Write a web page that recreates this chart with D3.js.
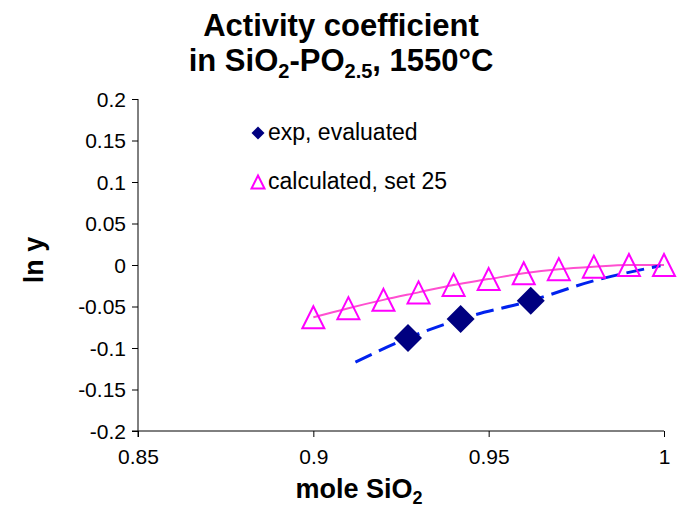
<!DOCTYPE html>
<html>
<head>
<meta charset="utf-8">
<script src="https://cdn.jsdelivr.net/npm/d3@7"></script>
<style>
  body { margin: 0; background: #fff; }
  svg { font-family: "Liberation Sans", Arial, sans-serif; }
  .tick text { font-size: 21px; fill: #000; }
</style>
</head>
<body>
<div id="chart"></div>
<script>
/* data */
var calcX = [0.90, 0.91, 0.92, 0.93, 0.94, 0.95, 0.96, 0.97, 0.98, 0.99, 1.00];
var calcY = [-0.063, -0.052, -0.042, -0.033, -0.024, -0.017, -0.010, -0.005, -0.002, 0.000, 0.000];

var expX = [0.927, 0.942, 0.962];
var expY = [-0.088, -0.065, -0.043];

// dashed trend line of the exp points
var trendX = [0.912, 0.927, 0.942, 0.962, 0.980, 0.999];
var trendY = [-0.117, -0.088, -0.065, -0.043, -0.019, -0.001];

var xTicks = [0.85, 0.9, 0.95, 1];
var yTicks = [0.2, 0.15, 0.1, 0.05, 0, -0.05, -0.1, -0.15, -0.2];

var W = 677, H = 513;
var margin = { left: 138, right: 13, top: 99, bottom: 82 };

var svg = d3.select("#chart").append("svg")
    .attr("width", W)
    .attr("height", H);

var x = d3.scaleLinear().domain([0.85, 1]).range([margin.left, W - margin.right]);
var y = d3.scaleLinear().domain([-0.2, 0.2]).range([H - margin.bottom, margin.top]);

var fmt = function (d) { return String(+d.toFixed(2)); };

/* axes */
svg.append("g")
    .attr("transform", "translate(0," + y(-0.2) + ")")
    .call(d3.axisBottom(x).tickValues(xTicks).tickSize(6).tickPadding(9).tickFormat(fmt))
    .call(function (g) { g.select(".domain").attr("d", "M" + (x(0.85) - 6) + ",0H" + x(1)); })
    .selectAll("text").attr("dy", "0.85em");

svg.append("g")
    .attr("transform", "translate(" + x(0.85) + ",0)")
    .call(d3.axisLeft(y).tickValues(yTicks).tickSize(6).tickPadding(6).tickFormat(fmt))
    .call(function (g) { g.select(".domain").attr("d", "M0," + y(0.2) + "V" + (y(-0.2) + 6)); })
    .selectAll("text").attr("dy", "0.35em");

svg.selectAll(".tick line").attr("stroke", "#000");
svg.selectAll(".domain").attr("stroke", "#000");

/* lines */
var calcData = calcX.map(function (d, i) { return [d, calcY[i]]; });
var expData = expX.map(function (d, i) { return [d, expY[i]]; });
var trendData = trendX.map(function (d, i) { return [d, trendY[i]]; });

var line = d3.line()
    .x(function (d) { return x(d[0]); })
    .y(function (d) { return y(d[1]); })
    .curve(d3.curveMonotoneX);

svg.append("path")
    .datum(calcData)
    .attr("d", line)
    .attr("fill", "none")
    .attr("stroke", "#ff4fd0")
    .attr("stroke-width", 2);

svg.append("path")
    .datum(trendData)
    .attr("d", line)
    .attr("fill", "none")
    .attr("stroke", "#0022ee")
    .attr("stroke-width", 3)
    .attr("stroke-dasharray", "18,8");

/* markers */
function triPath(s) {
    var h = s / 2;
    return "M0," + (-h) + "L" + h + "," + h + "L" + (-h) + "," + h + "Z";
}
function diaPath(s) {
    var h = s / 2;
    return "M0," + (-h) + "L" + h + ",0L0," + h + "L" + (-h) + ",0Z";
}

svg.selectAll(".calc")
    .data(calcData)
    .enter().append("path")
    .attr("class", "calc")
    .attr("transform", function (d) { return "translate(" + x(d[0]) + "," + y(d[1]) + ")"; })
    .attr("d", triPath(22))
    .attr("fill", "none")
    .attr("stroke", "#ff00ff")
    .attr("stroke-width", 2);

svg.selectAll(".exp")
    .data(expData)
    .enter().append("path")
    .attr("class", "exp")
    .attr("transform", function (d) { return "translate(" + x(d[0]) + "," + y(d[1]) + ")"; })
    .attr("d", diaPath(28))
    .attr("fill", "#000080");

/* legend */
var legend = svg.append("g");
legend.append("path")
    .attr("transform", "translate(258,133)")
    .attr("d", diaPath(13))
    .attr("fill", "#000080");
legend.append("text")
    .attr("x", 268).attr("y", 140)
    .attr("font-size", 23)
    .text("exp, evaluated");
legend.append("path")
    .attr("transform", "translate(258,182)")
    .attr("d", triPath(13))
    .attr("fill", "none")
    .attr("stroke", "#ff00ff")
    .attr("stroke-width", 2);
legend.append("text")
    .attr("x", 268).attr("y", 189)
    .attr("font-size", 23)
    .text("calculated, set 25");

/* titles */
var title = svg.append("text")
    .attr("text-anchor", "middle")
    .attr("font-size", 31)
    .attr("font-weight", "bold");
title.append("tspan").attr("x", 341).attr("y", 36).text("Activity coefficient");
var t2 = title.append("tspan").attr("x", 341).attr("y", 71);
t2.append("tspan").text("in SiO");
t2.append("tspan").attr("font-size", 20).attr("dy", 7).text("2");
t2.append("tspan").attr("dy", -7).text("-PO");
t2.append("tspan").attr("font-size", 20).attr("dy", 7).text("2.5");
t2.append("tspan").attr("dy", -7).text(", 1550°C");

var xt = svg.append("text")
    .attr("x", 359).attr("y", 498)
    .attr("text-anchor", "middle")
    .attr("font-size", 27)
    .attr("font-weight", "bold");
xt.append("tspan").text("mole SiO");
xt.append("tspan").attr("font-size", 18).attr("dy", 6).text("2");

svg.append("text")
    .attr("transform", "translate(43,260) rotate(-90)")
    .attr("text-anchor", "middle")
    .attr("font-size", 27)
    .attr("font-weight", "bold")
    .text("ln y");
</script>
</body>
</html>
